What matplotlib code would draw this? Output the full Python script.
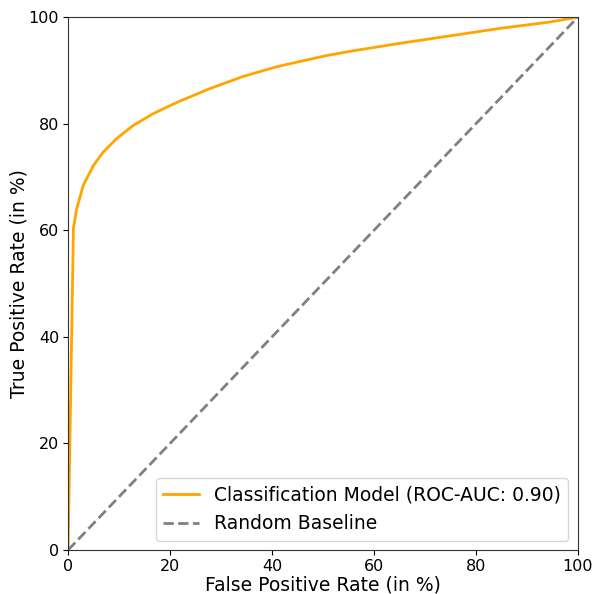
import matplotlib
matplotlib.use('Agg')
import matplotlib.pyplot as plt

# values (in %)
fpr = [0, 1.05, 1.7, 3.0, 5.0, 6.9, 9.5, 12.8, 16.7, 21.3, 27.8, 34.4, 40.9, 45.5, 50.7,
       55.3, 65.1, 74.9, 84.7, 94.5, 100.0]
tpr = [0, 60.4, 64.1, 68.5, 72.2, 74.7, 77.2, 79.7, 81.9, 84.0, 86.6, 88.9, 90.7, 91.7, 92.8,
       93.6, 95.1, 96.5, 97.9, 99.1, 100.0]
baseline = [0, 100]

model_label = 'Classification Model (ROC-AUC: 0.90)'
baseline_label = 'Random Baseline'

fig, ax = plt.subplots(figsize=(5.92, 5.94), dpi=100)

ax.plot(fpr, tpr, color='orange', linewidth=2, label=model_label)
ax.plot(baseline, baseline, color='gray', linestyle='--', linewidth=2, label=baseline_label)

ax.set_xlim(0, 100)
ax.set_ylim(0, 100)
ax.set_xlabel('False Positive Rate (in %)', fontsize=13.5, labelpad=1)
ax.set_ylabel('True Positive Rate (in %)', fontsize=13.5, labelpad=0)
ax.tick_params(labelsize=11.5, pad=3)
for s in ax.spines.values():
    s.set_color('#333333')
ax.legend(fontsize=13.5, loc='lower right', handlelength=1.9)

fig.subplots_adjust(left=0.115, right=0.976, top=0.971, bottom=0.074)
fig.savefig('out.png', dpi=100)
